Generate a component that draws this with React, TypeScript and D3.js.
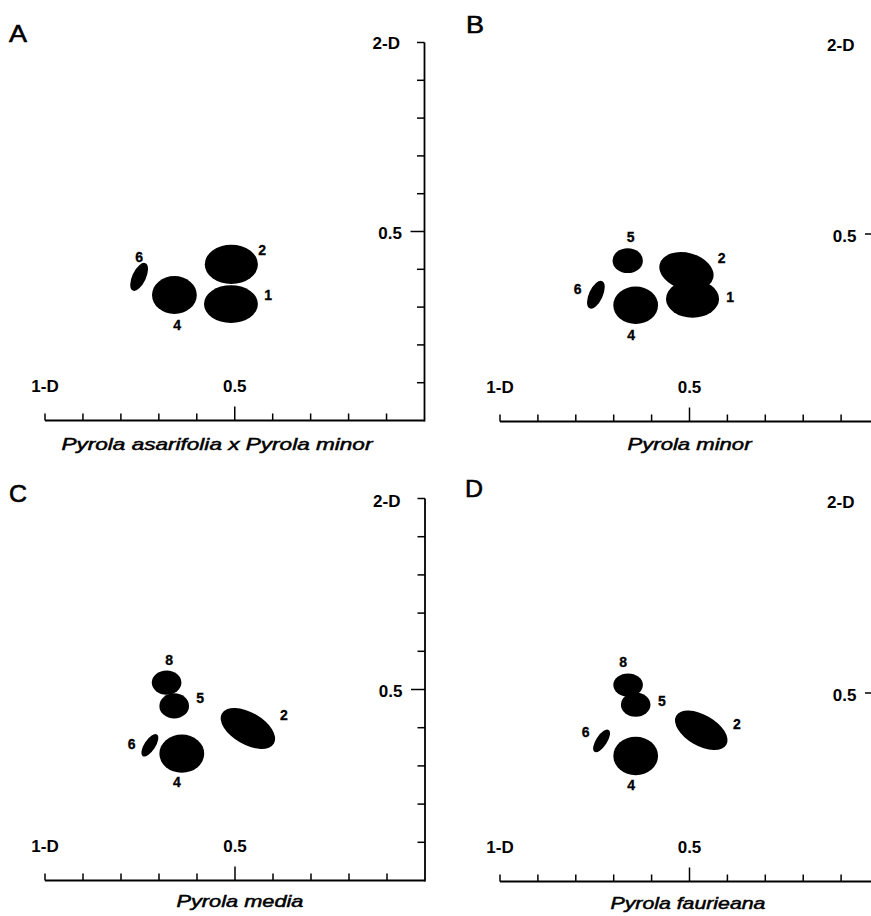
import React from "react";
import * as d3 from "d3";

// ---- data (values in axis units, 0..1) ----
const panelLetters = ["A", "B", "C", "D"];
const panelTitles = [
  "Pyrola asarifolia x Pyrola minor",
  "Pyrola minor",
  "Pyrola media",
  "Pyrola faurieana",
];
const xTickValues = [0, 0.1, 0.2, 0.3, 0.4, 0.5, 0.6, 0.7, 0.8, 0.9];
const yTickValues = [0.1, 0.2, 0.3, 0.4, 0.5, 0.6, 0.7, 0.8, 0.9, 1.0];
const xAxisName = "1-D";
const yAxisName = "2-D";
const midTickLabel = "0.5";

type Group = { id: string; cx: number; cy: number; rx: number; ry: number; tilt: number; lx: number; ly: number };

const groupsA: Group[] = [
  { id: "1", cx: 0.49, cy: 0.308, rx: 0.071, ry: 0.05, tilt: 0, lx: 0.588, ly: 0.332 },
  { id: "2", cx: 0.491, cy: 0.413, rx: 0.07, ry: 0.052, tilt: 0, lx: 0.572, ly: 0.451 },
  { id: "4", cx: 0.341, cy: 0.332, rx: 0.059, ry: 0.05, tilt: 0, lx: 0.348, ly: 0.253 },
  { id: "6", cx: 0.248, cy: 0.38, rx: 0.018, ry: 0.04, tilt: 25, lx: 0.248, ly: 0.433 },
];
const groupsB: Group[] = [
  { id: "5", cx: 0.337, cy: 0.429, rx: 0.04, ry: 0.033, tilt: 0, lx: 0.345, ly: 0.493 },
  { id: "2", cx: 0.492, cy: 0.401, rx: 0.073, ry: 0.049, tilt: 15, lx: 0.585, ly: 0.435 },
  { id: "1", cx: 0.508, cy: 0.327, rx: 0.07, ry: 0.05, tilt: 0, lx: 0.607, ly: 0.333 },
  { id: "4", cx: 0.358, cy: 0.31, rx: 0.059, ry: 0.05, tilt: 0, lx: 0.346, ly: 0.231 },
  { id: "6", cx: 0.253, cy: 0.338, rx: 0.018, ry: 0.04, tilt: 25, lx: 0.205, ly: 0.353 },
];
const groupsC: Group[] = [
  { id: "8", cx: 0.32, cy: 0.518, rx: 0.039, ry: 0.032, tilt: 0, lx: 0.327, ly: 0.577 },
  { id: "5", cx: 0.34, cy: 0.457, rx: 0.039, ry: 0.033, tilt: 0, lx: 0.408, ly: 0.477 },
  { id: "2", cx: 0.534, cy: 0.398, rx: 0.079, ry: 0.042, tilt: 30, lx: 0.629, ly: 0.433 },
  { id: "6", cx: 0.276, cy: 0.354, rx: 0.0145, ry: 0.034, tilt: 33, lx: 0.228, ly: 0.357 },
  { id: "4", cx: 0.36, cy: 0.332, rx: 0.059, ry: 0.05, tilt: 0, lx: 0.347, ly: 0.259 },
];
const groupsD: Group[] = [
  { id: "8", cx: 0.338, cy: 0.521, rx: 0.039, ry: 0.031, tilt: 0, lx: 0.325, ly: 0.582 },
  { id: "5", cx: 0.358, cy: 0.469, rx: 0.039, ry: 0.032, tilt: 0, lx: 0.427, ly: 0.48 },
  { id: "2", cx: 0.531, cy: 0.401, rx: 0.0765, ry: 0.041, tilt: 30, lx: 0.625, ly: 0.418 },
  { id: "6", cx: 0.268, cy: 0.373, rx: 0.0145, ry: 0.0345, tilt: 33, lx: 0.226, ly: 0.397 },
  { id: "4", cx: 0.358, cy: 0.333, rx: 0.059, ry: 0.051, tilt: 0, lx: 0.346, ly: 0.257 },
];
const panelGroups = [groupsA, groupsB, groupsC, groupsD];
const titleCenters = [0.453, 0.5, 0.513, 0.496];

// ---- layout (pixels) ----
const frames = [
  { x0: 45, x1: 424.5, yTop: 42.5, yBot: 420.5, letterX: 9, letterY: 42, twoDY: 49, titleW: 311, titleY: 450 },
  { x0: 500, x1: 879, yTop: 46.5, yBot: 421.5, letterX: 466, letterY: 33, twoDY: 51, titleW: 124, titleY: 450 },
  { x0: 45, x1: 425, yTop: 498.5, yBot: 880.5, letterX: 9, letterY: 502, twoDY: 507, titleW: 127, titleY: 907 },
  { x0: 500, x1: 879, yTop: 504.5, yBot: 881.5, letterX: 465, letterY: 497, twoDY: 508, titleW: 155, titleY: 909 },
];

const FONT = "'Liberation Sans', Arial, Helvetica, sans-serif";

function Panel({ idx }: { idx: number }) {
  const f = frames[idx];
  const x = d3.scaleLinear().domain([0, 1]).range([f.x0, f.x1]);
  const y = d3.scaleLinear().domain([0, 1]).range([f.yBot, f.yTop]);
  const groups = panelGroups[idx];
  const sw = 1.8;
  const axisText = { fontFamily: FONT, fontWeight: "bold" as const, fontSize: 17 };
  return (
    <g>
      <text x={f.letterX} y={f.letterY} fontFamily={FONT} fontSize={24} stroke="#000" strokeWidth={0.6} textLength={18} lengthAdjust="spacingAndGlyphs">
        {panelLetters[idx]}
      </text>
      {/* axes */}
      <line x1={x(0)} x2={x(1)} y1={y(0)} y2={y(0)} stroke="#000" strokeWidth={sw} />
      <line x1={x(1)} x2={x(1)} y1={y(0) + sw / 2} y2={y(1)} stroke="#000" strokeWidth={sw} />
      {xTickValues.map((v) => (
        <line key={"xt" + v} x1={x(v)} x2={x(v)} y1={y(0)} y2={y(0) - (v === 0.5 ? 14 : 7)} stroke="#000" strokeWidth={1.5} />
      ))}
      {yTickValues.map((v) => (
        <line key={"yt" + v} x1={x(1)} x2={x(1) - (v === 0.5 ? 14 : 7.5)} y1={y(v)} y2={y(v)} stroke="#000" strokeWidth={1.5} />
      ))}
      <text x={x(1) - 24.5} y={f.twoDY} textAnchor="end" {...axisText}>
        {yAxisName}
      </text>
      <text x={x(1) - 22.5} y={y(0.5) + 7.5} textAnchor="end" {...axisText}>
        {midTickLabel}
      </text>
      <text x={x(0)} y={y(0) - 29} textAnchor="middle" {...axisText}>
        {xAxisName}
      </text>
      <text x={x(0.5)} y={y(0) - 29} textAnchor="middle" {...axisText}>
        {midTickLabel}
      </text>
      <text
        x={x(titleCenters[idx])}
        y={f.titleY}
        textAnchor="middle"
        fontFamily={FONT}
        fontStyle="italic"
        fontSize={17}
        stroke="#000"
        strokeWidth={0.5}
        textLength={f.titleW}
        lengthAdjust="spacingAndGlyphs"
      >
        {panelTitles[idx]}
      </text>
      {/* groups */}
      {groups.map((g) => {
        const cx = x(g.cx);
        const cy = y(g.cy);
        const rx = x(g.rx) - x(0);
        const ry = y(0) - y(g.ry);
        return (
          <g key={"g" + g.id}>
            <ellipse cx={cx} cy={cy} rx={rx} ry={ry} fill="#000" transform={`rotate(${g.tilt} ${cx} ${cy})`} />
            <text
              x={x(g.lx)}
              y={y(g.ly)}
              textAnchor="middle"
              dominantBaseline="central"
              fontFamily={FONT}
              fontWeight="bold"
              fontSize={14}
              stroke="#000"
              strokeWidth={0.3}
            >
              {g.id}
            </text>
          </g>
        );
      })}
    </g>
  );
}

export default function App() {
  return (
    <svg
      width={871}
      height={916}
      viewBox="0 0 871 916"
      style={{ position: "absolute", left: 0, top: 0, background: "#fff" }}
    >
      <rect x={0} y={0} width={871} height={916} fill="#fff" />
      {[0, 1, 2, 3].map((i) => (
        <Panel key={i} idx={i} />
      ))}
    </svg>
  );
}
